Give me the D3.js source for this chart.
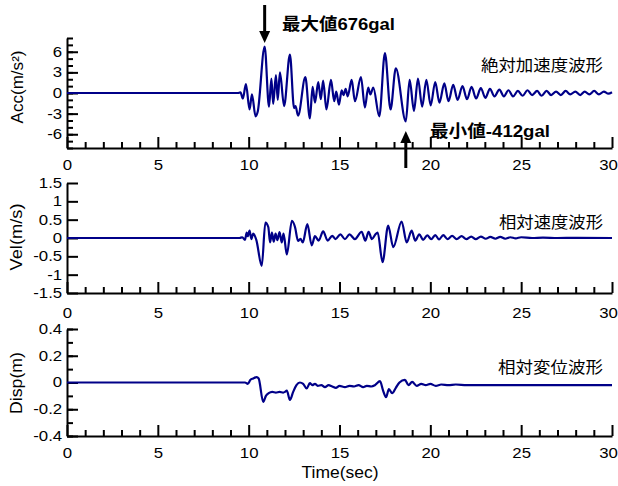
<!DOCTYPE html>
<html>
<head>
<meta charset="utf-8">
<script src="https://cdn.jsdelivr.net/npm/d3@7"></script>
<style>
body { margin: 0; background: #fff; }
svg { display: block; }
text { font-family: "Liberation Sans", Arial, "Noto Sans CJK JP", sans-serif; fill: #000; }
</style>
</head>
<body>
<svg id="chart" width="618" height="486"></svg>
<script>
// ---- data: [time (s), value] at peaks / troughs ----
const timeTicks = [0, 5, 10, 15, 20, 25, 30];

const accTicks = [-6, -3, 0, 3, 6];
const velTicks = [-1.5, -1, -0.5, 0, 0.5, 1, 1.5];
const dispTicks = [-0.4, -0.2, 0, 0.2, 0.4];

const panelTitles = ['Acc(m/s²)', 'Vel(m/s)', 'Disp(m)'];
const waveNames = ['絶対加速度波形', '相対速度波形', '相対変位波形'];

// acceleration (m/s2)
const accPeaks = [
  [0, 0], [9.4, 0], [9.55, 0.1], [9.68, -0.8], [9.85, 1.3], [10.05, -2.4], [10.18, -0.2],
  [10.38, -3.4], [10.5, -2.7], [10.88, 6.76], [11.12, -2.0], [11.25, 2.1], [11.35, -1.6],
  [11.5, 2.6], [11.6, -1.0], [11.72, 3.0], [11.95, -1.9], [12.27, 5.6], [12.5, -2.2],
  [12.58, -1.9], [12.72, -3.3], [13.12, 2.3], [13.37, -3.7], [13.52, 0.9], [13.65, -1.4],
  [13.83, 1.6], [13.97, -0.9], [14.1, 1.8], [14.28, -2.4], [14.53, 1.9], [14.71, -1.2],
  [14.82, 0.2], [14.97, -1.7], [15.12, 0.4], [15.22, -0.3], [15.34, 0.6], [15.45, -0.5],
  [15.67, 1.9], [15.85, -1.2], [16.18, 2.3], [16.4, -2.1], [16.58, 0.8], [16.7, -0.2],
  [16.86, 0.8], [17.19, -3.4], [17.5, 5.8], [17.81, -2.4], [18.1, 3.6], [18.65, -4.12],
  [18.86, 1.9], [19.1, -2.6], [19.32, 2.1], [19.55, -2.0], [19.78, 1.9], [20.02, -1.8],
  [20.27, 1.6], [20.5, -1.4], [20.77, 1.4], [21.0, -1.2], [21.26, 1.2], [21.5, -1.0],
  [21.77, 1.0], [22.02, -0.9], [22.27, 0.9], [22.52, -0.8], [22.78, 0.7], [23.03, -0.7],
  [23.28, 0.6], [23.53, -0.5], [23.8, 0.5], [24.05, -0.5], [24.3, 0.4], [24.55, -0.5],
  [24.82, 0.3], [25.08, -0.4], [25.35, 0.4], [25.6, -0.3], [25.88, 0.3], [26.12, -0.4],
  [26.4, 0.3], [26.65, -0.3], [26.92, 0.2], [27.18, -0.3], [27.45, 0.3], [27.7, -0.2],
  [27.98, 0.2], [28.25, -0.3], [28.5, 0.2], [28.75, -0.2], [29.02, 0.3], [29.28, -0.2],
  [29.55, 0.2], [29.8, -0.1], [30, 0.1]
];

// relative velocity (m/s)
const velPeaks = [
  [0, 0], [9.5, 0], [9.65, 0.02], [9.8, -0.05], [9.89, 0.15], [9.95, 0.05], [10.05, 0.2],
  [10.15, -0.03], [10.25, 0.12], [10.42, -0.05], [10.72, -0.76], [10.92, 0.42], [11.08, 0.3],
  [11.18, -0.12], [11.28, 0.15], [11.38, -0.1], [11.48, 0.12], [11.58, -0.06], [11.7, 0.16],
  [11.82, -0.12], [11.92, 0.12], [12.1, -0.45], [12.38, 0.47], [12.55, 0.3], [12.72, -0.08],
  [12.85, -0.02], [12.98, -0.12], [13.23, 0.38], [13.47, -0.2], [13.65, 0.05], [13.85, -0.07],
  [14.1, 0.18], [14.35, -0.07], [14.6, 0.06], [14.78, -0.03], [15.05, 0.1], [15.3, -0.03],
  [15.55, 0.1], [15.85, -0.03], [16.22, 0.17], [16.42, -0.07], [16.6, 0.17], [16.78, -0.03],
  [16.98, 0.1], [17.1, 0.15], [17.37, -0.66], [17.68, 0.34], [17.96, -0.25], [18.42, 0.45],
  [18.7, -0.12], [18.97, 0.2], [19.17, -0.07], [19.39, 0.1], [19.6, -0.05], [19.83, 0.07],
  [20.05, -0.03], [20.27, 0.08], [20.48, -0.04], [20.71, 0.08], [20.95, -0.03], [21.2, 0.06],
  [21.45, -0.03], [21.72, 0.05], [21.98, -0.03], [22.25, 0.04], [22.5, -0.03], [22.78, 0.04],
  [23.05, -0.02], [23.3, 0.03], [23.58, -0.02], [23.85, 0.03], [24.12, -0.02], [24.4, 0.02],
  [24.7, -0.01], [25.0, 0.02], [25.6, 0.0], [26.2, 0.01], [27, 0], [28, 0.005], [30, 0]
];

// relative displacement (m)
const dispPeaks = [
  [0, 0], [9.8, 0], [9.95, -0.01], [10.1, 0.02], [10.25, 0.03], [10.44, 0.04], [10.55, 0.03],
  [10.8, -0.145], [10.95, -0.1], [11.1, -0.08], [11.3, -0.07], [11.5, -0.075], [11.7, -0.07],
  [11.9, -0.075], [12.0, -0.07], [12.1, -0.06], [12.27, -0.13], [12.45, -0.07], [12.63, -0.02],
  [12.82, 0.0], [13.0, -0.01], [13.19, -0.045], [13.37, -0.005], [13.5, -0.02], [13.65, -0.01],
  [13.8, -0.025], [14.0, -0.02], [14.2, -0.035], [14.4, -0.02], [14.6, -0.03], [14.8, -0.04],
  [15.0, -0.025], [15.3, -0.035], [15.55, -0.025], [15.8, -0.03], [16.05, -0.02],
  [16.3, -0.035], [16.5, -0.025], [16.75, -0.03], [16.95, -0.02], [17.23, 0.01], [17.4, -0.06],
  [17.56, -0.11], [17.72, -0.05], [17.9, -0.08], [18.1, -0.04], [18.3, 0.0], [18.6, 0.02],
  [18.8, -0.02], [19.0, 0.005], [19.25, -0.025], [19.5, -0.01], [19.75, -0.02], [20.0, -0.01],
  [20.3, -0.025], [20.6, -0.015], [21.0, -0.02], [21.4, -0.015], [22, -0.02], [30, -0.02]
];

// ---- layout ----
var width = 618, height = 486;
var svg = d3.select('#chart');
var x = d3.scaleLinear().domain([0, 30]).range([67, 612]);
var LINE = '#000088';
var STRETCH = 'scale(1.2,1)';

var panels = [
  { data: accPeaks, domain: [-8, 8], range: [148, 38], ticks: accTicks, minor: d3.range(-8, 9),
    pad: 12, titleX: 23, titleY: 87, titleLen: 73, nameY: 71, nameLen: 122 },
  { data: velPeaks, domain: [-1.5, 1.5], range: [293, 183], ticks: velTicks, minor: [],
    pad: 15, titleX: 22, titleY: 237, titleLen: 67, nameY: 228, nameLen: 104 },
  { data: dispPeaks, domain: [-0.4, 0.4], range: [436, 329], ticks: dispTicks, minor: d3.range(-4, 5).map(d => d / 10),
    pad: 12, titleX: 22, titleY: 383, titleLen: 62, nameY: 373, nameLen: 105 }
];

panels.forEach((p, i) => {
  var y = d3.scaleLinear().domain(p.domain).range(p.range);
  var g = svg.append('g');

  // minor ticks first
  g.append('g')
    .attr('transform', `translate(0,${p.range[0]})`)
    .call(d3.axisBottom(x).tickValues(d3.range(0, 31).filter(d => d % 5)).tickSize(-6).tickFormat(''))
    .call(a => a.select('.domain').remove());
  if (p.minor.length) {
    g.append('g')
      .attr('transform', `translate(${x(0)},0)`)
      .call(d3.axisLeft(y).tickValues(p.minor).tickSize(-6).tickFormat(''))
      .call(a => a.select('.domain').remove());
  }

  // x axis
  var xa = g.append('g')
    .attr('transform', `translate(0,${p.range[0]})`)
    .call(d3.axisBottom(x).tickValues(timeTicks).tickSizeInner(-11).tickSizeOuter(0).tickPadding(p.pad).tickFormat(d => String(d)));
  // last label sits at the right edge, nudge it inside like the original
  xa.selectAll('text').attr('transform', d => (d === 30 ? 'translate(-4,0) ' : '') + STRETCH);

  // y axis
  var ya = g.append('g')
    .attr('transform', `translate(${x(0)},0)`)
    .call(d3.axisLeft(y).tickValues(p.ticks).tickSizeInner(-11).tickSizeOuter(0).tickPadding(4).tickFormat(d => String(d)));
  ya.selectAll('text').attr('transform', STRETCH);

  g.selectAll('.domain, .tick line').attr('stroke', '#000').attr('stroke-width', 2);
  g.selectAll('.tick text').attr('font-size', 14).attr('fill', '#000')
    .attr('font-family', '"Liberation Sans", Arial, sans-serif');

  // waveform
  var line = d3.line().x(d => x(d[0])).y(d => y(d[1])).curve(d3.curveMonotoneX);
  g.append('path')
    .datum(p.data)
    .attr('d', line)
    .attr('fill', 'none')
    .attr('stroke', LINE)
    .attr('stroke-width', 2.2)
    .attr('stroke-linejoin', 'round');

  // axis title (rotated)
  g.append('text')
    .attr('transform', `translate(${p.titleX},${p.titleY}) rotate(-90)`)
    .attr('text-anchor', 'middle')
    .attr('font-size', 16)
    .attr('textLength', p.titleLen)
    .attr('lengthAdjust', 'spacingAndGlyphs')
    .text(panelTitles[i]);

  // wave name
  g.append('text')
    .attr('x', 603)
    .attr('y', p.nameY)
    .attr('text-anchor', 'end')
    .attr('font-size', 16)
    .attr('font-family', '"Noto Sans CJK JP", sans-serif')
    .attr('fill', '#111')
    .attr('textLength', p.nameLen)
    .attr('lengthAdjust', 'spacingAndGlyphs')
    .text(waveNames[i]);
});

svg.append('text')
  .attr('x', 340)
  .attr('y', 478)
  .attr('text-anchor', 'middle')
  .attr('font-size', 16)
  .attr('textLength', 77)
  .attr('lengthAdjust', 'spacingAndGlyphs')
  .text('Time(sec)');

// ---- max / min annotations ----
var maxPt = d3.greatest(accPeaks, d => d[1]);
var minPt = d3.least(accPeaks, d => d[1]);
var xm = x(maxPt[0]), xn = x(minPt[0]);

svg.append('path')
  .attr('d', `M${xm},5V33`)
  .attr('stroke', '#000').attr('stroke-width', 3);
svg.append('path')
  .attr('d', `M${xm - 5.5},31L${xm + 5.5},31L${xm},43Z`)
  .attr('fill', '#000');
svg.append('text')
  .attr('x', 282).attr('y', 29.5)
  .attr('font-size', 17).attr('font-weight', 'bold')
  .attr('textLength', 113).attr('lengthAdjust', 'spacingAndGlyphs')
  .text(`最大値${Math.round(maxPt[1] * 100)}gal`);

svg.append('path')
  .attr('d', `M${xn},141V168`)
  .attr('stroke', '#000').attr('stroke-width', 3);
svg.append('path')
  .attr('d', `M${xn - 5.5},143L${xn + 5.5},143L${xn},131Z`)
  .attr('fill', '#000');
svg.append('text')
  .attr('x', 430).attr('y', 137)
  .attr('font-size', 17).attr('font-weight', 'bold')
  .attr('textLength', 120).attr('lengthAdjust', 'spacingAndGlyphs')
  .text(`最小値${Math.round(minPt[1] * 100)}gal`);
</script>
</body>
</html>
